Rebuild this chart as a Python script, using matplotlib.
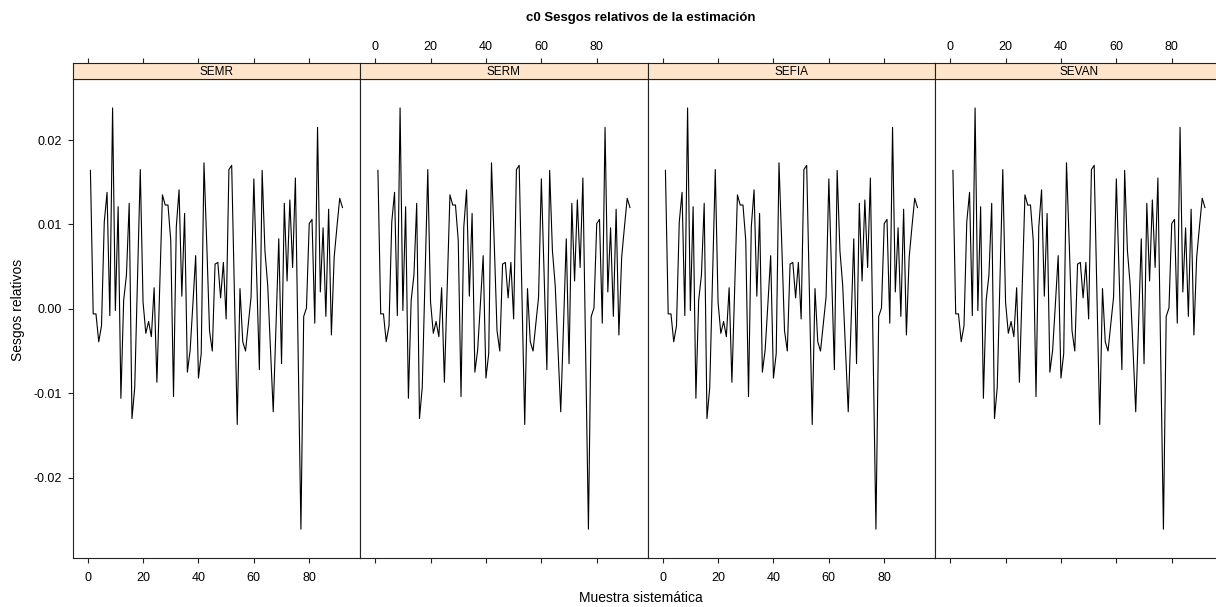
import numpy as np
from matplotlib import pyplot as plt

plt.rcParams['font.family'] = ['Liberation Sans', 'DejaVu Sans']

PANELS = ["SEMR", "SERM", "SEFIA", "SEVAN"]
SAMPLE = np.arange(1, 93)
BIAS = [
    0.0164, -0.0006, -0.0006, -0.0039, -0.0020, 0.0103, 0.0138, -0.0008,
    0.0238, -0.0002, 0.0121, -0.0106, 0.0010, 0.0040, 0.0125, -0.0130,
    -0.0093, 0.0036, 0.0165, 0.0008, -0.0029, -0.0015, -0.0033, 0.0025,
    -0.0087, 0.0024, 0.0135, 0.0123, 0.0123, 0.0081, -0.0104, 0.0097,
    0.0141, 0.0015, 0.0113, -0.0075, -0.0049, 0.0006, 0.0063, -0.0082,
    -0.0053, 0.0173, 0.0077, -0.0026, -0.0050, 0.0053, 0.0055, 0.0013,
    0.0055, -0.0012, 0.0165, 0.0170, 0.0016, -0.0137, 0.0024, -0.0039,
    -0.0050, -0.0018, 0.0014, 0.0154, 0.0041, -0.0072, 0.0164, 0.0069,
    0.0028, -0.0047, -0.0122, -0.0020, 0.0083, -0.0065, 0.0125, 0.0033,
    0.0129, 0.0049, 0.0155, -0.0053, -0.0261, -0.0009, 0.0001, 0.0101,
    0.0106, -0.0017, 0.0215, 0.0020, 0.0096, -0.0009, 0.0118, -0.0031,
    0.0061, 0.0097, 0.0131, 0.0120,
]
X_TICKS = [0, 20, 40, 60, 80]
Y_TICKS = [-0.02, -0.01, 0.0, 0.01, 0.02]
Y_LABELS = ["-0.02", "-0.01", "0.00", "0.01", "0.02"]

W, H = 1216, 607
STRIP_BG = "#ffe5cc"


def _box(x0, y0, x1, y1):
    # pixel box (top-left origin) -> figure fraction rect
    return [x0 / W, 1 - y1 / H, (x1 - x0) / W, (y1 - y0) / H]


def _plot_panels(fig):
    left, width = 72.7, 287.5
    for i, name in enumerate(PANELS):
        x0 = left + i * width
        ax = fig.add_axes(_box(x0, 79, x0 + width, 558))
        ax.plot(SAMPLE, BIAS, color="black", lw=0.8)
        ax.set_xlim(-5.4, 98.4)
        ax.set_ylim(-0.02952, 0.02723)
        for sp in ax.spines.values():
            sp.set_linewidth(0.8)
            sp.set_color("#222222")
        ax.set_xticks(X_TICKS)
        ax.tick_params(axis="x", direction="out", length=3.8, width=0.8,
                       pad=6, labelsize=9, color="#222222")
        if i % 2 == 1:
            ax.set_xticklabels([])
        ax.set_yticks(Y_TICKS)
        if i == 0:
            ax.set_yticklabels(Y_LABELS)
            ax.tick_params(axis="y", direction="out", length=3.8, width=0.8,
                           pad=4, labelsize=9, color="#222222")
        else:
            ax.tick_params(axis="y", left=False, labelleft=False)

        strip = fig.add_axes(_box(x0, 62.7, x0 + width, 79))
        strip.set_facecolor(STRIP_BG)
        strip.set_xlim(-5.4, 98.4)
        strip.set_yticks([])
        strip.set_xticks(X_TICKS)
        strip.xaxis.tick_top()
        strip.tick_params(axis="x", direction="out", length=3.8, width=0.8,
                          pad=3, labelsize=9, color="#222222")
        if i % 2 == 0:
            strip.set_xticklabels([])
        for sp in strip.spines.values():
            sp.set_linewidth(0.8)
            sp.set_color("#222222")
        strip.text(0.5, 0.45, name, transform=strip.transAxes,
                   ha="center", va="center", fontsize=8.5)


fig = plt.figure(figsize=(W / 100, H / 100), dpi=100)
_plot_panels(fig)
fig.text(641 / W, 1 - 18 / H, "c0 Sesgos relativos de la estimación",
         ha="center", va="center", fontsize=9.5, fontweight="bold")
fig.text(641 / W, 1 - 598 / H, "Muestra sistemática",
         ha="center", va="center", fontsize=10)
fig.text(18 / W, 1 - 310 / H, "Sesgos relativos", rotation=90,
         ha="center", va="center", fontsize=10)
fig.savefig("out.png", dpi=100)
